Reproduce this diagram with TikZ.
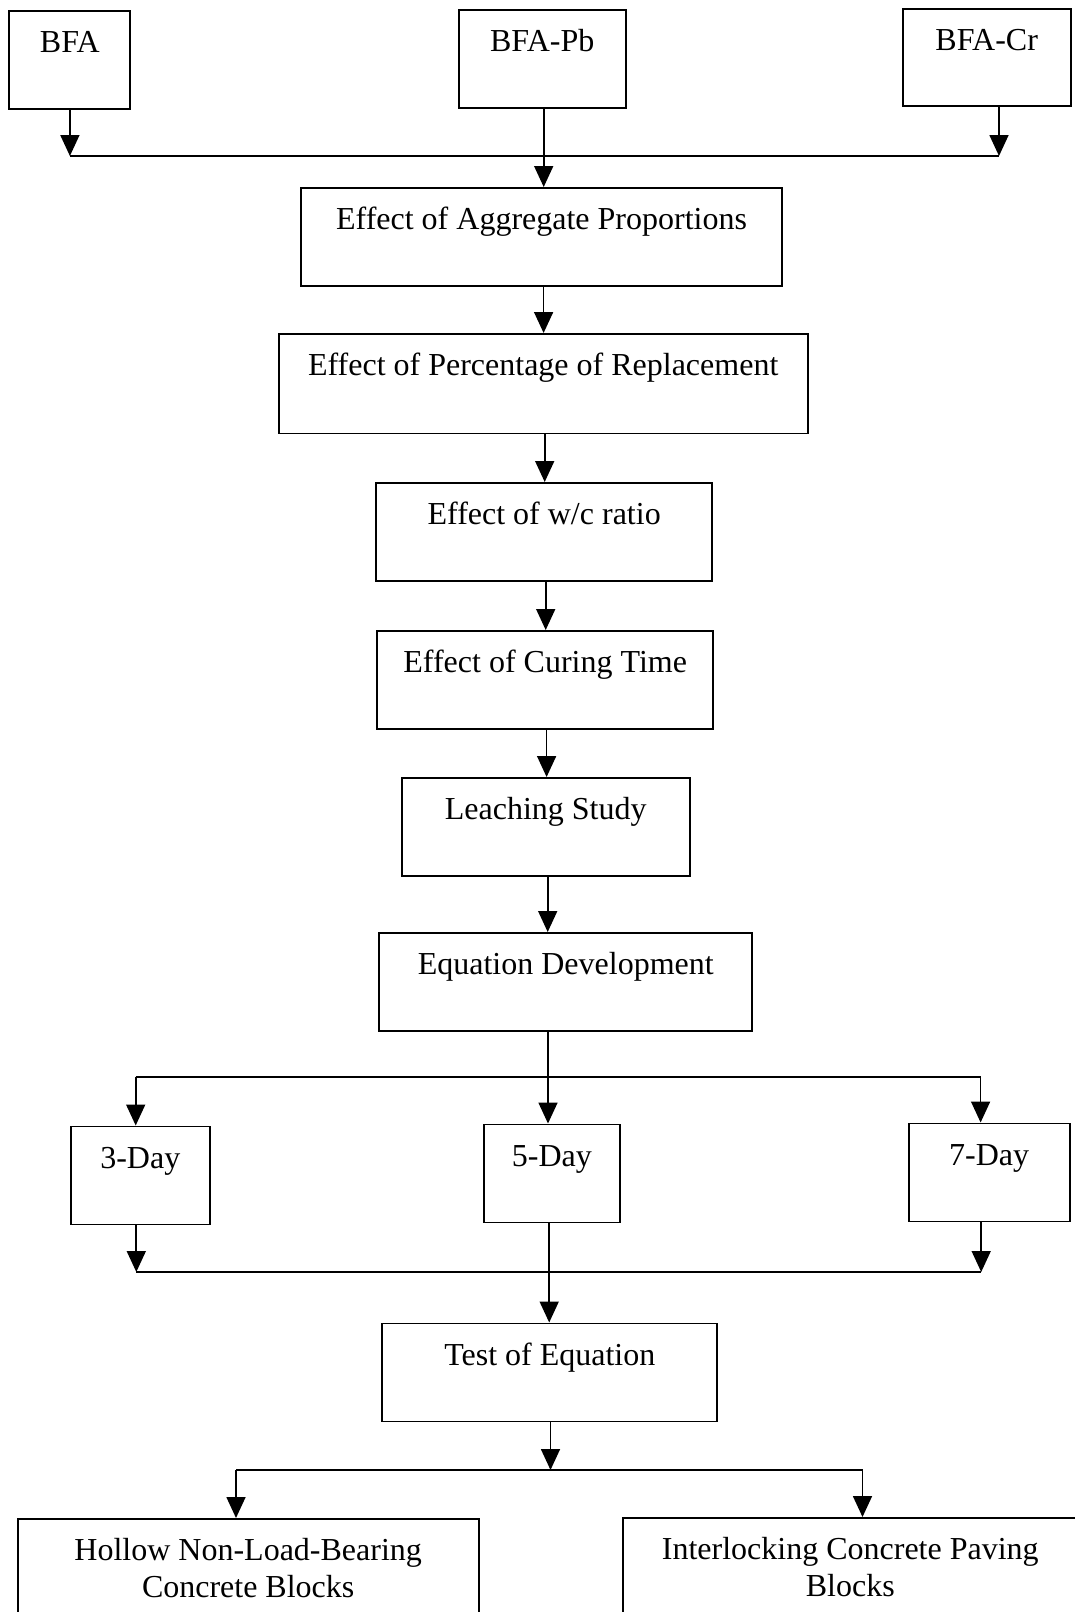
\documentclass[tikz,border=0pt]{standalone}
\usepackage{fontspec}
\setmainfont{Liberation Serif}
\usetikzlibrary{arrows.meta}

\tikzset{
  stage/.style={draw, line width=1.9pt, rectangle, anchor=north,
    inner xsep=0pt, inner ysep=0pt, text height=42pt, text depth=56pt,
    align=center, font=\fontsize{32}{37}\selectfont},
  tallstage/.style={stage, text height=79pt, text depth=60pt},
  flow/.style={line width=1.7pt, -{Triangle[length=21pt,width=19pt]}},
  bus/.style={line width=1.7pt}
}

\begin{document}
\begin{tikzpicture}[x=1pt,y=-1pt]
  \clip (0,0) rectangle (1075,1612);
  \fill[white] (0,0) rectangle (1075,1612);

  % source materials
  \node[stage, minimum width=121pt] (bfa) at (69.9,10) {BFA};
  \node[stage, minimum width=167pt] (bfapb) at (542.2,9) {BFA-Pb};
  \node[stage, minimum width=168pt, text depth=55pt] (bfacr) at (986.7,8) {BFA-Cr};

  % main sequence of studies
  \node[stage, minimum width=481pt] (agg) at (541.6,187) {Effect of Aggregate Proportions};
  \node[stage, minimum width=529pt, text depth=57.5pt] (perc) at (543.2,333) {Effect of Percentage of Replacement};
  \node[stage, minimum width=336pt] (wc) at (544.2,482) {Effect of w/c ratio};
  \node[stage, minimum width=336pt] (cure) at (545.2,630) {Effect of Curing Time};
  \node[stage, minimum width=288pt] (leach) at (545.7,777) {Leaching Study};
  \node[stage, minimum width=373pt] (eqdev) at (565.8,932) {Equation Development};

  % curing periods
  \node[stage, minimum width=139pt] (d3) at (140.3,1125.5) {3-Day};
  \node[stage, minimum width=136pt] (d5) at (551.9,1123.5) {5-Day};
  \node[stage, minimum width=161pt] (d7) at (989.2,1122.5) {7-Day};

  \node[stage, minimum width=335pt] (test) at (549.8,1322.5) {Test of Equation};

  % applications
  \node[tallstage, minimum width=461pt] (hollow) at (248.2,1518) {Hollow Non-Load-Bearing\\Concrete Blocks};
  \node[tallstage, minimum width=455pt] (paving) at (850.3,1517) {Interlocking Concrete Paving\\Blocks};

  % bus coordinates
  \coordinate (topbus) at (0,156);
  \coordinate (crx) at (999,0);
  \coordinate (midbus) at (0,1077);
  \coordinate (midx) at (548,0);
  \coordinate (leftx) at (135.7,0);
  \coordinate (rightx) at (980.6,0);
  \coordinate (lowbus) at (0,1272);
  \coordinate (lowx) at (549.2,0);
  \coordinate (endbus) at (0,1470);
  \coordinate (testx) at (550.5,0);
  \coordinate (hx) at (236,0);
  \coordinate (px) at (862.5,0);

  % sources into the first study
  \draw[flow] (bfa.south) -- (bfa.south |- topbus);
  \draw[flow] (crx |- bfacr.south) -- (crx |- topbus);
  \draw[bus] (bfa.south |- topbus) -- (crx |- topbus);
  \draw[flow] ([xshift=1.5pt]bfapb.south) -- ([xshift=1.5pt]bfapb.south |- agg.north);

  % main chain
  \draw[flow] ([xshift=2pt]agg.south) -- ([xshift=2pt]agg.south |- perc.north);
  \draw[flow] ([xshift=1.5pt]perc.south) -- ([xshift=1.5pt]perc.south |- wc.north);
  \draw[flow] ([xshift=1.5pt]wc.south) -- ([xshift=1.5pt]wc.south |- cure.north);
  \draw[flow] ([xshift=1.4pt]cure.south) -- ([xshift=1.4pt]cure.south |- leach.north);
  \draw[flow] ([xshift=2pt]leach.south) -- ([xshift=2pt]leach.south |- eqdev.north);

  % branching to curing periods
  \draw[flow] (midx |- eqdev.south) -- (midx |- d5.north);
  \draw[bus] (leftx |- midbus) -- (rightx |- midbus);
  \draw[flow] (leftx |- midbus) -- (leftx |- d3.north);
  \draw[flow] (rightx |- midbus) -- (rightx |- d7.north);

  % merging into the test
  \draw[flow] ([xshift=0.6pt]leftx |- d3.south) -- ([xshift=0.6pt]leftx |- lowbus);
  \draw[flow] ([xshift=0.6pt]rightx |- d7.south) -- ([xshift=0.6pt]rightx |- lowbus);
  \draw[bus] ([xshift=0.6pt]leftx |- lowbus) -- ([xshift=0.6pt]rightx |- lowbus);
  \draw[flow] (lowx |- d5.south) -- (lowx |- test.north);

  % applications
  \draw[flow] (testx |- test.south) -- (testx |- endbus);
  \draw[bus] (hx |- endbus) -- (px |- endbus);
  \draw[flow] (hx |- endbus) -- (hx |- hollow.north);
  \draw[flow] (px |- endbus) -- (px |- paving.north);
\end{tikzpicture}
\end{document}
